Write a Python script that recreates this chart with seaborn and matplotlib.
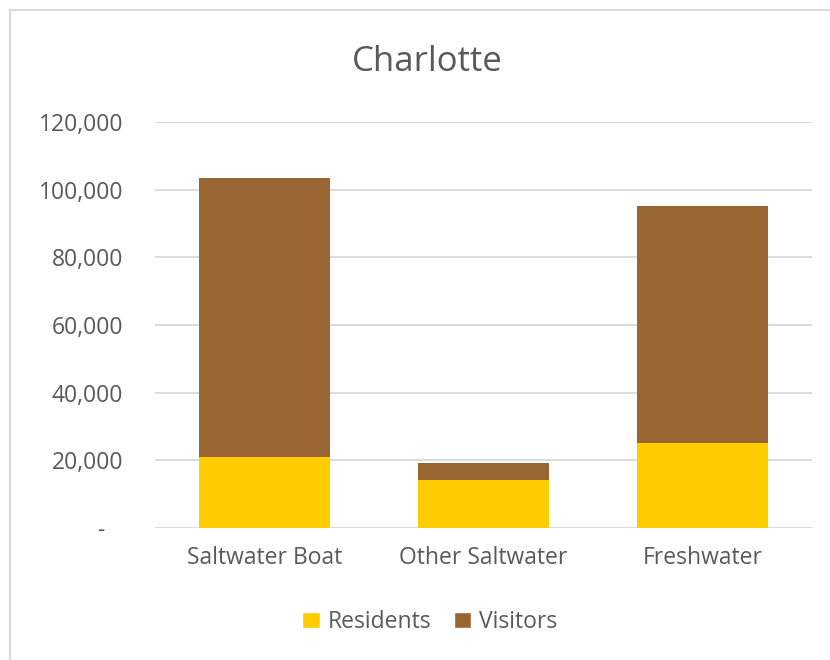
import matplotlib
matplotlib.use("Agg")
import matplotlib.pyplot as plt
import seaborn as sns
import pandas as pd
import numpy as np
from matplotlib.patches import Patch
from matplotlib.lines import Line2D

categories = ["Saltwater Boat", "Other Saltwater", "Freshwater"]
residents = [20900, 14100, 25100]
visitors = [82500, 5100, 70200]
title = "Charlotte"

res_color = "#FFCC00"
vis_color = "#996633"
text_color = "#595959"

sns.set_theme(style="white")
plt.rcParams["font.family"] = ["Open Sans", "DejaVu Sans"]

df = pd.DataFrame({"category": categories, "Residents": residents, "Visitors": visitors})
df["Total"] = df["Residents"] + df["Visitors"]

W, H = 830, 660
fig = plt.figure(figsize=(8.3, 6.6), dpi=100)
ax = fig.add_axes([155/W, 1-528/H, (812-155)/W, (528-122)/H])

sns.barplot(data=df, x="category", y="Total", color=vis_color, width=0.6,
            saturation=1, ax=ax, linewidth=0, zorder=3)
sns.barplot(data=df, x="category", y="Residents", color=res_color, width=0.6,
            saturation=1, ax=ax, linewidth=0, zorder=4)

ax.set_ylim(0, 120000)
ax.set_xlim(-0.5, 2.5)
yt = np.arange(0, 120001, 20000)
ax.set_yticks(yt)
ax.set_yticklabels(["-   " if v == 0 else f"{v:,}" for v in yt])
ax.yaxis.grid(True, color="#D9D9D9", linewidth=1.3, zorder=0)
ax.set_axisbelow(True)
for s in ax.spines.values():
    s.set_visible(False)
ax.tick_params(axis="both", length=0, labelsize=16.5, labelcolor=text_color)
ax.tick_params(axis="y", pad=23)
ax.tick_params(axis="x", pad=13)
ax.set_xlabel("")
ax.set_ylabel("")

fig.text(0.515, 1-62/H, title, ha="center", va="center", fontsize=25, color=text_color)

handles = [Patch(facecolor=res_color, label="Residents"),
           Patch(facecolor=vis_color, label="Visitors")]
fig.legend(handles=handles, loc="center", bbox_to_anchor=(0.518, 1-622/H), ncol=2,
           frameon=False, fontsize=16.5, handlelength=0.75, handleheight=0.75,
           handletextpad=0.35, columnspacing=1.0, labelcolor=text_color)

fig.add_artist(Line2D([9.5/W, 9.5/W], [0, 1-9.5/H], transform=fig.transFigure,
                      color="#D9D9D9", linewidth=1.5))
fig.add_artist(Line2D([9.5/W, 1], [1-9.5/H, 1-9.5/H], transform=fig.transFigure,
                      color="#D9D9D9", linewidth=1.5))

fig.savefig("out.png", dpi=100)
